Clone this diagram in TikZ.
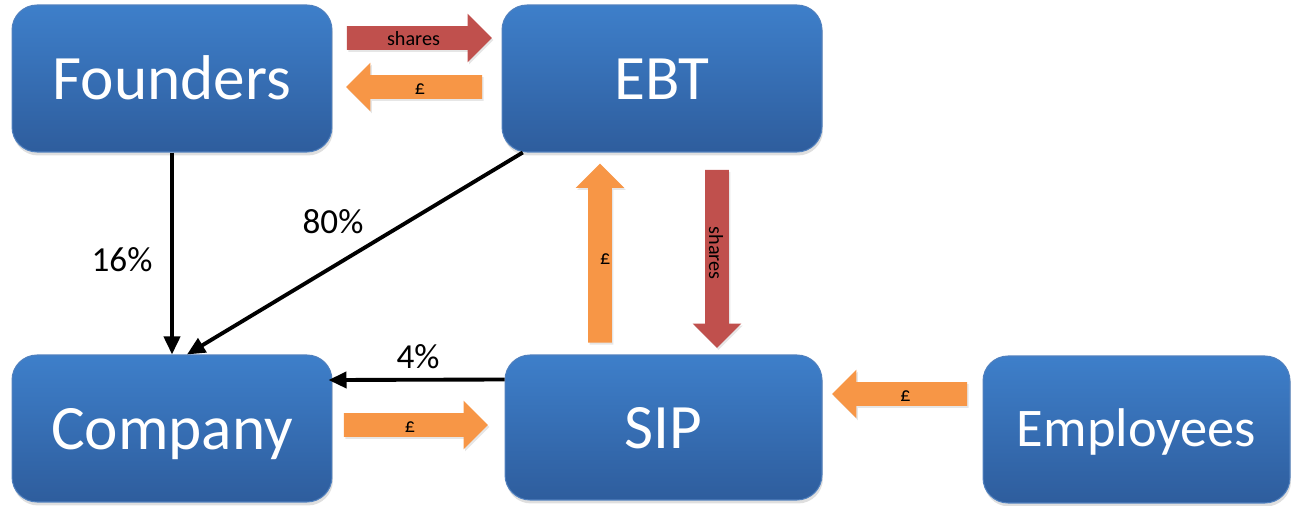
\documentclass[tikz,border=0pt]{standalone}
\usepackage{fontspec}
\setmainfont{Carlito}
\usetikzlibrary{arrows.meta,shapes.arrows,shadows}
\definecolor{boxtop}{RGB}{62,127,202}
\definecolor{boxbot}{RGB}{46,93,157}
\definecolor{boxedge}{RGB}{80,128,190}
\definecolor{sharered}{RGB}{192,80,77}
\definecolor{cashorange}{RGB}{247,150,70}

\begin{document}
\begin{tikzpicture}[x=0.02cm,y=-0.02cm,
  party/.style={rounded corners=0.5cm, top color=boxtop, bottom color=boxbot, draw=boxedge, line width=0.6pt,
    text=white, minimum width=6.4cm, minimum height=2.94cm, font=\fontsize{36}{40}\selectfont,
    text height=0.84cm, text depth=0pt,
    drop shadow={opacity=0.25, shadow xshift=0.02cm, shadow yshift=-0.07cm}},
  flow/.style={single arrow, single arrow head extend=0.25cm, single arrow tip angle=90,
    inner xsep=0pt, inner ysep=0pt, text height=0.39cm, text depth=0.07cm,
    font=\fontsize{11.5}{12}\selectfont, drop shadow={opacity=0.2, shadow xshift=0.03cm, shadow yshift=-0.04cm}},
  back/.style={rotate=180, text height=0.07cm, text depth=0.39cm},
  shares/.style={flow, fill=sharered},
  cash/.style={flow, fill=cashorange},
  stake/.style={-{Triangle[length=0.36cm,width=0.32cm]}, line width=2.2pt},
  pct/.style={font=\fontsize{20}{24}\selectfont}
]
\useasboundingbox (0,0) rectangle (1291,506);

% the parties
\node[party] (founders) at (172,78.5) {Founders};
\node[party] (ebt) at (662,78.5) {EBT};
\node[party] (company) at (172,428.5) {Company};
\node[party, minimum width=6.34cm, minimum height=2.9cm] (sip) at (663.5,427.5) {SIP};
\node[party, minimum width=6.14cm, font=\fontsize{31}{34}\selectfont, text height=0.7cm] (employees) at (1136.5,429.5) {Employees};

% shares and cash
\node[shares, minimum height=2.9cm] (fshares) at (413.5,38) {shares};
\node[cash, back, minimum height=2.72cm] (fcash) at (420,87) {\rotatebox{180}{£}};
\node[cash, minimum height=3.58cm, rotate=90, text height=0.23cm, text depth=0.23cm] (ebtcash) at (600,259) {\rotatebox{-90}{£}};
\node[shares, minimum height=3.56cm, rotate=-90] (sipshares) at (717,253) {shares};
\node[cash, minimum height=2.88cm] (ccash) at (410,425) {£};
\node[cash, back, minimum height=2.7cm] (ecash) at (905.5,394) {\rotatebox{180}{£}};

% holdings
\draw[stake] (founders.south) -- (company.north);
\draw[stake] (ebt.208) -- ([xshift=0.3cm]company.north);
\draw[stake] ([yshift=0.96cm]sip.west) -- ([yshift=0.97cm,xshift=-0.08cm]company.east);
\node[pct] (p16) at (122,260) {16\%};
\node[pct] (p80) at (333,222) {80\%};
\node[pct] (p4) at (418,357) {4\%};
\end{tikzpicture}
\end{document}
